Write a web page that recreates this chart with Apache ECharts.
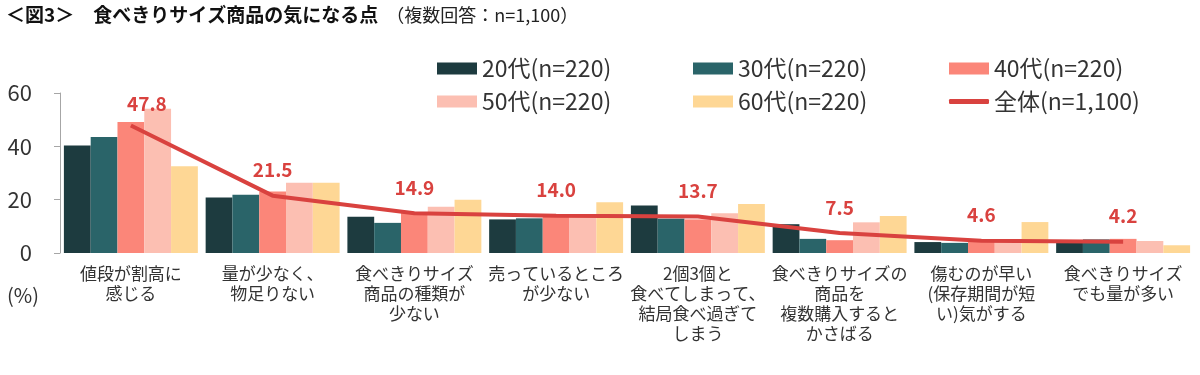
<!DOCTYPE html>
<html>
<head>
<meta charset="utf-8">
<script src="https://cdn.jsdelivr.net/npm/echarts@6/dist/echarts.min.js"></script>
<style>
  html, body { margin: 0; padding: 0; background: #fff; }
  #chart { width: 1200px; height: 375px; }
</style>
</head>
<body>
<div id="chart"></div>
<script>
// 項目（x軸）
const categories = [
  '値段が割高に\n感じる',
  '量が少なく、\n物足りない',
  '食べきりサイズ\n商品の種類が\n少ない',
  '売っているところ\nが少ない',
  '2個3個と\n食べてしまって、\n結局食べ過ぎて\nしまう',
  '食べきりサイズの\n商品を\n複数購入すると\nかさばる',
  '傷むのが早い\n(保存期間が短\nい)気がする',
  '食べきりサイズ\nでも量が多い'
]

const seriesNames = ['20代(n=220)', '30代(n=220)', '40代(n=220)', '50代(n=220)', '60代(n=220)', '全体(n=1,100)']

const age20 = [40.3, 20.8, 13.6, 12.6, 17.8, 10.8, 4.1, 3.8]
const age30 = [43.5, 21.8, 11.3, 13.0, 12.9, 5.3, 3.8, 5.1]
const age40 = [49.1, 23.1, 15.4, 14.0, 12.6, 4.8, 4.5, 5.3]
const age50 = [54.1, 26.3, 17.3, 14.2, 14.9, 11.5, 4.6, 4.5]
const age60 = [32.5, 26.3, 20.0, 19.0, 18.4, 13.9, 11.6, 2.9]
const total = [47.8, 21.5, 14.9, 14.0, 13.7, 7.5, 4.6, 4.2]

const yTicks = [0, 20, 40, 60]

const colors = ['#1d3b3f', '#2a6469', '#fb8679', '#fcbfb2', '#fed795', '#d9423f']
const font = '"Noto Sans CJK JP", "Noto Sans", sans-serif'

const chart = echarts.init(document.getElementById('chart'))

const barData = [age20, age30, age40, age50, age60]

// 凡例は1項目ずつ配置
const legendPos = [
  { left: 437, top: 57 }, { left: 693, top: 57 }, { left: 949, top: 57 },
  { left: 437, top: 90 }, { left: 693, top: 90 }, { left: 949, top: 90 }
]

const option = {
  animation: false,
  color: colors,
  title: {
    text: '{b|＜図3＞　食べきりサイズ商品の気になる点}{n|（複数回答：n=1,100）}',
    left: 6,
    top: 5,
    padding: 0,
    textStyle: {
      rich: {
        b: { fontFamily: font, fontSize: 19, fontWeight: 'bold', color: '#111' },
        n: { fontFamily: font, fontSize: 18, fontWeight: 'normal', color: '#222', padding: [1, 0, 0, 8] }
      }
    }
  },
  legend: seriesNames.map((name, i) => ({
    data: [{
      name: name,
      icon: i === 5 ? 'roundRect' : 'rect',
      itemStyle: i === 5 ? { color: colors[5] } : undefined
    }],
    left: legendPos[i].left,
    top: legendPos[i].top,
    padding: 0,
    itemWidth: 40,
    itemHeight: i === 5 ? 5 : 12,
    itemGap: 5,
    textStyle: { fontFamily: font, fontSize: 23, color: '#333' }
  })),
  grid: {
    left: 60,
    right: 6,
    top: 93,
    bottom: 122
  },
  xAxis: {
    type: 'category',
    data: categories,
    axisLine: { show: false },
    axisTick: { show: false },
    axisLabel: {
      interval: 0,
      margin: 11,
      fontFamily: font,
      fontSize: 17,
      lineHeight: 20,
      color: '#333'
    }
  },
  yAxis: {
    type: 'value',
    min: yTicks[0],
    max: yTicks[yTicks.length - 1],
    interval: 20,
    axisLine: { show: true, lineStyle: { color: '#a6a6a6' } },
    axisTick: { show: true, length: 6, lineStyle: { color: '#a6a6a6' } },
    splitLine: { show: false },
    axisLabel: { fontFamily: font, fontSize: 22, color: '#333', margin: 28 }
  },
  graphic: [{
    type: 'text',
    left: 7,
    top: 285,
    style: { text: '(%)', fontFamily: font, fontSize: 20, fill: '#333' }
  }],
  series: [
    ...barData.map((d, i) => ({
      name: seriesNames[i],
      type: 'bar',
      data: d,
      barGap: '0%',
      barCategoryGap: '5.5%',
      itemStyle: { color: colors[i] }
    })),
    {
      name: seriesNames[5],
      type: 'line',
      data: total.map((v, i) => ({
        value: v,
        label: i === 0 ? { offset: [16, 0], distance: 12 } : undefined
      })),
      symbol: 'circle',
      symbolSize: 0.1,
      showSymbol: true,
      lineStyle: { color: colors[5], width: 4 },
      itemStyle: { color: colors[5] },
      z: 5,
      label: {
        show: true,
        position: 'top',
        distance: 16,
        formatter: p => p.value.toFixed(1),
        fontFamily: font,
        fontSize: 19,
        fontWeight: 'bold',
        color: '#d9423f'
      }
    }
  ]
}

chart.setOption(option)
</script>
</body>
</html>
